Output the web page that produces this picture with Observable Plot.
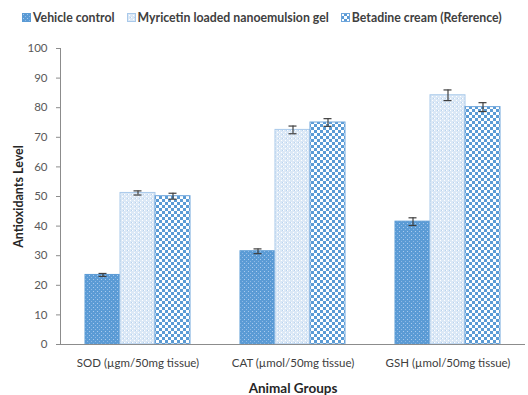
<!DOCTYPE html>
<html><head><meta charset="utf-8">
<script src="https://cdn.jsdelivr.net/npm/d3@7"></script>
<script src="https://cdn.jsdelivr.net/npm/@observablehq/plot@0.6"></script>
<style>
body{margin:0;background:#fff;font-family:Lato,"Open Sans",sans-serif;}
#legend{height:34px;display:flex;align-items:center;padding-left:22px;font-size:12.3px;font-weight:bold;color:#404040;white-space:nowrap}
#legend span.item{display:inline-flex;align-items:center;margin-right:12px}
#legend svg{margin-right:2px}
</style></head>
<body>
<svg width="0" height="0" style="position:absolute">
<defs>
<pattern id="pVehicle" width="4" height="4" patternUnits="userSpaceOnUse">
<rect width="4" height="4" fill="#5b9bd5"/>
<rect x="1" y="1" width="1" height="1" fill="#a9cbee"/>
<rect x="3" y="3" width="1" height="1" fill="#8fb9e6"/>
</pattern>
<pattern id="pMyr" width="4" height="4" patternUnits="userSpaceOnUse">
<rect width="4" height="4" fill="#dbe8f6"/>
<rect x="0" y="0" width="1" height="1" fill="#ffffff"/>
<rect x="2" y="2" width="1" height="1" fill="#ffffff"/>
<rect x="3" y="0" width="1" height="1" fill="#b7d2ee"/>
</pattern>
<pattern id="pBet" width="6" height="6" patternUnits="userSpaceOnUse">
<rect width="6" height="6" fill="#5b9bd5"/>
<rect x="0" y="0" width="3" height="3" fill="#ffffff"/>
<rect x="3" y="3" width="3" height="3" fill="#ffffff"/>
</pattern>
</defs>
</svg>
<div id="legend"></div>
<div id="chart"></div>
<script>
const categories = ["SOD (µgm/50mg tissue)", "CAT (µmol/50mg tissue)", "GSH (µmol/50mg tissue)"];
const series = ["Vehicle control", "Myricetin loaded nanoemulsion gel", "Betadine cream (Reference)"];
const vehicle = [23.5, 31.5, 41.5];
const myricetin = [51.2, 72.5, 84.2];
const betadine = [50.1, 75.0, 80.2];
const errVehicle = [0.5, 0.8, 1.3];
const errMyricetin = [0.7, 1.3, 1.8];
const errBetadine = [1.0, 1.3, 1.5];
const fills = ["url(#pVehicle)", "url(#pMyr)", "url(#pBet)"];
const strokes = ["#5b9bd5", "#a9c9ea", "#6fa6dc"];
const yTicks = [0,10,20,30,40,50,60,70,80,90,100];

const vals = [vehicle, myricetin, betadine];
const errs = [errVehicle, errMyricetin, errBetadine];
const data = [];
categories.forEach((c, i) => series.forEach((s, j) => data.push({cat: c, s, v: vals[j][i], e: errs[j][i]})));

// legend
const lg = document.getElementById("legend");
series.forEach((s, j) => {
  const it = document.createElement("span"); it.className = "item";
  it.innerHTML = `<svg width="9" height="9"><rect x="0.5" y="0.5" width="8" height="8" fill="${fills[j]}" stroke="${strokes[j]}"/></svg>${s}`;
  lg.appendChild(it);
});

const chart = Plot.plot({
  width: 528, height: 361,
  marginLeft: 60, marginRight: 3, marginTop: 14, marginBottom: 51,
  style: {fontFamily: "Lato, 'Open Sans', sans-serif", fontSize: "11.5px", color: "#595959"},
  fx: {domain: categories, padding: 0},
  x: {domain: series, paddingInner: 0, paddingOuter: 0.714, axis: null},
  y: {domain: [0, 100]},
  color: {domain: series, range: fills},
  marks: [
    Plot.barY(data, {fx: "cat", x: "s", y: "v", fill: "s"}),
    Plot.ruleX(data, {fx: "cat", x: "s", y1: d => d.v - d.e, y2: d => d.v + d.e, stroke: "#404040", strokeWidth: 1.2}),
    Plot.tickY(data, {fx: "cat", x: "s", y: d => d.v + d.e, stroke: "#404040", insetLeft: 13.5, insetRight: 13.5, strokeWidth: 1.2}),
    Plot.tickY(data, {fx: "cat", x: "s", y: d => d.v - d.e, stroke: "#404040", insetLeft: 13.5, insetRight: 13.5, strokeWidth: 1.2}),
    Plot.ruleY([0], {stroke: "#8c8c8c"}),
    Plot.frame({anchor: "left", facetAnchor: "left", stroke: "#8c8c8c"}),
    Plot.axisY({ticks: yTicks, tickSize: 4, tickPadding: 9, stroke: "#8c8c8c", label: "Antioxidants Level", labelAnchor: "center", labelArrow: "none", labelOffset: 46, fill: "#595959"}),
    Plot.axisFx({anchor: "bottom", tickSize: 0, tickPadding: 14, label: "Animal Groups", labelAnchor: "center", labelArrow: "none", labelOffset: 48, fill: "#404040"})
  ]
});
document.getElementById("chart").appendChild(chart);
const svg = d3.select(chart);
svg.selectAll('g[aria-label="bar"] rect').each(function() {
  const f = this.getAttribute("fill");
  const j = fills.indexOf(f);
  this.setAttribute("stroke", j >= 0 ? strokes[j] : "none");
});
svg.selectAll('g[aria-label="y-axis label"] text').style("font-weight", "bold").style("font-size", "12.5px").style("fill", "#262626");
svg.selectAll('g[aria-label="fx-axis label"] text').style("font-weight", "bold").style("font-size", "13.5px").style("fill", "#262626");
</script>
</body></html>
